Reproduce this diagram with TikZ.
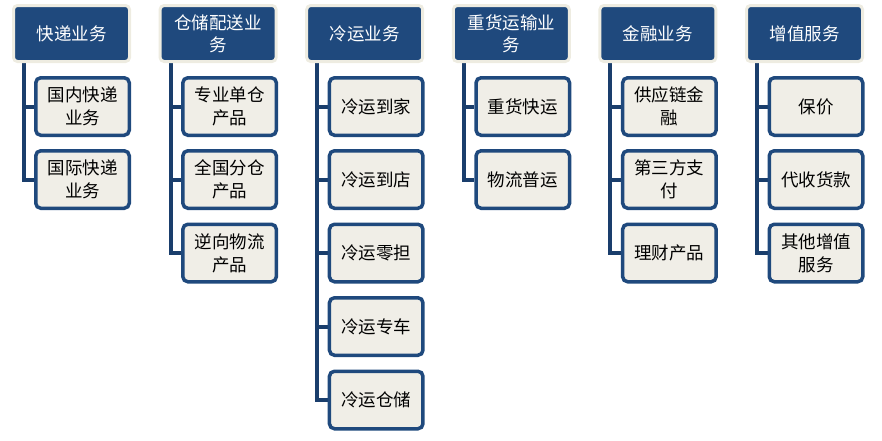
\documentclass[tikz,border=0pt]{standalone}
\usepackage{fontspec}
\setmainfont{Noto Sans CJK SC}
\usetikzlibrary{backgrounds}
\definecolor{darkblue}{HTML}{1F497D}
\definecolor{linkblue}{HTML}{1A3E6C}
\definecolor{beige}{HTML}{EEECE1}
\definecolor{childfill}{HTML}{F0EEE7}
\begin{document}
\begin{tikzpicture}[x=1pt,y=-1pt,
  topbox/.style={draw=beige, line width=3pt, fill=darkblue, rounded corners=4pt,
    minimum width=116pt, minimum height=56pt, inner sep=0pt, text=white,
    font=\fontsize{17.5pt}{22pt}\selectfont, align=center},
  childbox/.style={draw=darkblue, line width=3.5pt, fill=childfill, rounded corners=5pt,
    minimum width=93.5pt, minimum height=57.5pt, inner sep=0pt, text=black,
    font=\fontsize{17.5pt}{23pt}\selectfont, align=center},
  conn/.style={draw=linkblue, line width=4pt}]
\useasboundingbox (0,0) rectangle (882,440);
\def\rowA{106.5}\def\rowB{179.5}\def\rowC{253}\def\rowD{326.5}\def\rowE{400}
% column 1
\node[topbox] (t1) at (71.5,33.5) {快递业务};
\coordinate (v1) at (24,0);
\node[childbox] (t1a) at (82.5,\rowA) {国内快递\\业务};
\node[childbox] (t1b) at (82.5,\rowB) {国际快递\\业务};
% column 2
\node[topbox] (t2) at (218.1,33.5) {仓储配送业\\务};
\coordinate (v2) at (170.6,0);
\node[childbox] (t2a) at (229.6,\rowA) {专业单仓\\产品};
\node[childbox] (t2b) at (229.6,\rowB) {全国分仓\\产品};
\node[childbox] (t2c) at (229.6,\rowC) {逆向物流\\产品};
% column 3
\node[topbox] (t3) at (364.7,33.5) {冷运业务};
\coordinate (v3) at (317.2,0);
\node[childbox] (t3a) at (376.2,\rowA) {冷运到家};
\node[childbox] (t3b) at (376.2,\rowB) {冷运到店};
\node[childbox] (t3c) at (376.2,\rowC) {冷运零担};
\node[childbox] (t3d) at (376.2,\rowD) {冷运专车};
\node[childbox] (t3e) at (376.2,\rowE) {冷运仓储};
% column 4
\node[topbox] (t4) at (511.3,33.5) {重货运输业\\务};
\coordinate (v4) at (463.8,0);
\node[childbox] (t4a) at (522.8,\rowA) {重货快运};
\node[childbox] (t4b) at (522.8,\rowB) {物流普运};
% column 5
\node[topbox] (t5) at (657.9,33.5) {金融业务};
\coordinate (v5) at (610.4,0);
\node[childbox] (t5a) at (669.4,\rowA) {供应链金\\融};
\node[childbox] (t5b) at (669.4,\rowB) {第三方支\\付};
\node[childbox] (t5c) at (669.4,\rowC) {理财产品};
% column 6
\node[topbox] (t6) at (804.5,33.5) {增值服务};
\coordinate (v6) at (757,0);
\node[childbox] (t6a) at (816,\rowA) {保价};
\node[childbox] (t6b) at (816,\rowB) {代收货款};
\node[childbox] (t6c) at (816,\rowC) {其他增值\\服务};
% connectors
\begin{scope}[on background layer]
\foreach \t/\v/\last/\list in {t1/v1/t1b/{t1a,t1b}, t2/v2/t2c/{t2a,t2b,t2c}, t3/v3/t3e/{t3a,t3b,t3c,t3d,t3e}, t4/v4/t4b/{t4a,t4b}, t5/v5/t5c/{t5a,t5b,t5c}, t6/v6/t6c/{t6a,t6b,t6c}}{
  \draw[conn] (\t.south -| \v) -- (\v |- \last.west) -- (\last.west);
  \foreach \c in \list {\draw[conn] (\v |- \c.west) -- (\c.west);}
}
\end{scope}
\end{tikzpicture}
\end{document}
